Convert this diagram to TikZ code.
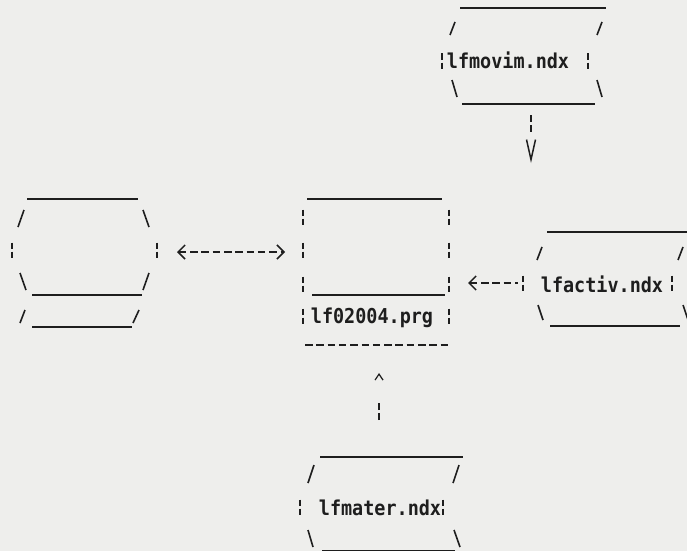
\documentclass[tikz,border=0pt]{standalone}
\usepackage{fontspec}
\newfontfamily\dotmono[FakeStretch=0.9]{DejaVu Sans Mono}
\usetikzlibrary{arrows.meta}
\definecolor{ink}{RGB}{30,30,30}
\definecolor{paper}{RGB}{238,238,236}

\begin{document}
\begin{tikzpicture}[x=1pt, y=-1pt,
        file/.style={font=\dotmono\bfseries\fontsize{20.5}{20.5}\selectfont, text=ink, inner sep=0pt, anchor=base},
        filebox/.style={inner sep=0pt, outer sep=0pt},
        rule/.style={ink, line width=1.9pt},
        slash/.style={ink, line width=1.6pt},
        bar/.style={ink, line width=1.6pt, dash pattern=on 6pt off 3pt},
        link/.style={ink, line width=1.5pt, dash pattern=on 7.5pt off 3.8pt, >={Straight Barb[length=7pt,width=14pt]}},
        drop/.style={ink, line width=1.5pt, dash pattern=on 7pt off 3pt on 7pt off 90pt, -{Straight Barb[length=20pt,width=9pt]}},
        rise/.style={ink, line width=1.5pt, dash pattern=on 7pt off 3pt on 7pt off 90pt, -{Straight Barb[length=6pt,width=8pt,line width=1.2pt]}}]
        \useasboundingbox (0,0) rectangle (687,551);
        \fill[paper] (0,0) rectangle (687,551);
        \node[filebox, minimum width=150pt, minimum height=96pt] (Movim) at (531,56) {};
        \node[filebox, minimum width=145pt, minimum height=128pt] (Store) at (84.5,252) {};
        \node[filebox, minimum width=147pt, minimum height=146pt] (Program) at (376.5,272) {};
        \node[filebox, minimum width=164pt, minimum height=95pt] (Activ) at (605,283) {};
        \node[filebox, minimum width=166pt, minimum height=94pt] (Mater) at (379,504) {};
        \node[file] (lfmovim) at (508,68) {lfmovim.ndx};
        \node[file] (lf02004) at (372,323) {lf02004.prg};
        \node[file] (lfactiv) at (602,292) {lfactiv.ndx};
        \node[file] (lfmater) at (380,515) {lfmater.ndx};
        \draw[rule] (460,8) -- (606,8);
        \draw[rule] (462,104) -- (595,104);
        \draw[rule] (27,199) -- (138,199);
        \draw[rule] (32,295) -- (142,295);
        \draw[rule] (32,327) -- (132,327);
        \draw[rule] (307,199) -- (442,199);
        \draw[rule] (312,295) -- (445,295);
        \draw[link] (305,345) -- (450,345);
        \draw[rule] (547,232) -- (687,232);
        \draw[rule] (550,326) -- (680,326);
        \draw[rule] (320,457) -- (463,457);
        \draw[rule] (322,550.5) -- (455,550.5);
        \foreach \a/\b/\c/\d in {450/35/455/22, 597/35/602/22, 452/80/457/97, 597/80/602/97,
                18/227/24/210, 143/210/149/227, 20/273/26/290, 143/290/149/273, 20/323/25/310, 133/323/139/310,
                537/260/542/247, 678/260/683/247, 538/305/543/320, 683/305/688/320,
                308/483/314/465, 453/483/459/465, 308/530/313/547, 454/530/460/547}
            \draw[slash] (\a,\b) -- (\c,\d);
        \foreach \x/\y in {442/61, 588/61, 12/250, 157/250,
                303/217, 303/250, 303/284, 303/316, 449/217, 449/250, 449/284, 449/316,
                523/283, 672/283, 300/507, 443/507}
            \draw[bar] ({\x},{\y-7.5}) -- ({\x},{\y+7.5});
        \draw[link, <->, shorten <=20pt, shorten >=18pt] (Store.east) -- (Store.east -| Program.west);
        \draw[link, <-, shorten <=18pt, shorten >=5pt] (Activ.west -| Program.east) -- (Activ.west);
        \draw[drop, shorten <=11pt, shorten >=72.5pt] (Movim.south) -- (Movim.south |- Activ.north);
        \draw[rise, shorten <=37pt, shorten >=28pt] (Mater.north) -- (Mater.north |- Program.south);
    \end{tikzpicture}
\end{document}
